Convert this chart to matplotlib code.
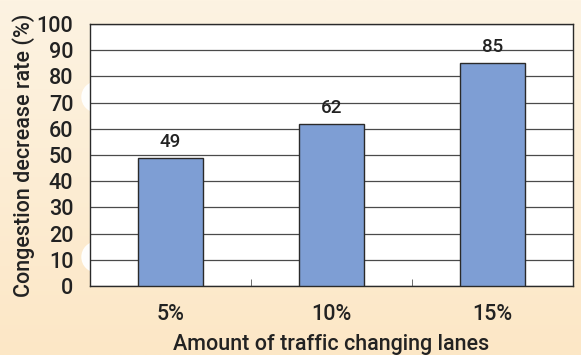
import numpy as np
import matplotlib.pyplot as plt
from matplotlib.patches import Circle

plt.rcParams['font.family'] = ['Roboto', 'DejaVu Sans']
plt.rcParams['font.weight'] = 'medium'
plt.rcParams['axes.labelweight'] = 'medium'

categories = ["5%", "10%", "15%"]
values = [49, 62, 85]
yticks = list(range(0, 101, 10))

W, H = 581, 355
fig = plt.figure(figsize=(W / 100, H / 100), dpi=100)

# peach gradient background, pixel coordinates
bg = fig.add_axes([0, 0, 1, 1], zorder=-10)
grad = np.linspace(0, 1, 256).reshape(-1, 1)
c_top = np.array([253, 243, 226]) / 255
c_bot = np.array([252, 231, 198]) / 255
img = c_top + (c_bot - c_top) * grad[:, :, None]
bg.imshow(img, aspect="auto", extent=[0, W, H, 0])
for cy in (97, 257):
    bg.add_patch(Circle((97, cy), 15, color="white", alpha=0.95))
bg.set_xlim(0, W)
bg.set_ylim(H, 0)
bg.set_axis_off()

ax = fig.add_axes([90 / W, 1 - 286 / H, 483 / W, 262 / H])
ax.set_facecolor("white")
x = np.arange(len(categories))
ax.bar(x, values, width=0.4, color="#7e9ed4", edgecolor="#2a2a2a",
       linewidth=1.0, zorder=3)
for xi, v in zip(x, values):
    ax.annotate(str(v), (xi, v), xytext=(0, 5), textcoords="offset points",
                ha="center", va="bottom", fontsize=13.5, color="#222222",
                zorder=4)

ax.set_xlim(-0.5, 2.5)
ax.set_ylim(0, 100)
ax.set_yticks(yticks)
ax.yaxis.grid(True, color="#4a4a4a", linewidth=0.9, zorder=0)
ax.set_axisbelow(True)
ax.set_xticks(x)
ax.set_xticklabels(categories, fontsize=15.5, color="#222222")
ax.set_xticks([0.5, 1.5], minor=True)
ax.tick_params(axis="x", which="major", length=0, pad=13)
ax.tick_params(axis="x", which="minor", direction="in", length=5,
               color="#555555")
ax.tick_params(axis="y", length=0, labelsize=15.5, labelcolor="#222222",
               pad=12)
for s in ax.spines.values():
    s.set_color("#2a2a2a")
    s.set_linewidth(1.0)

ax.set_ylabel("Congestion decrease rate (%)", fontsize=15.5, color="#222222",
              labelpad=1)
ax.set_xlabel("Amount of traffic changing lanes", fontsize=15.5,
              color="#222222", labelpad=6.5)

fig.savefig("out.png", dpi=100)
